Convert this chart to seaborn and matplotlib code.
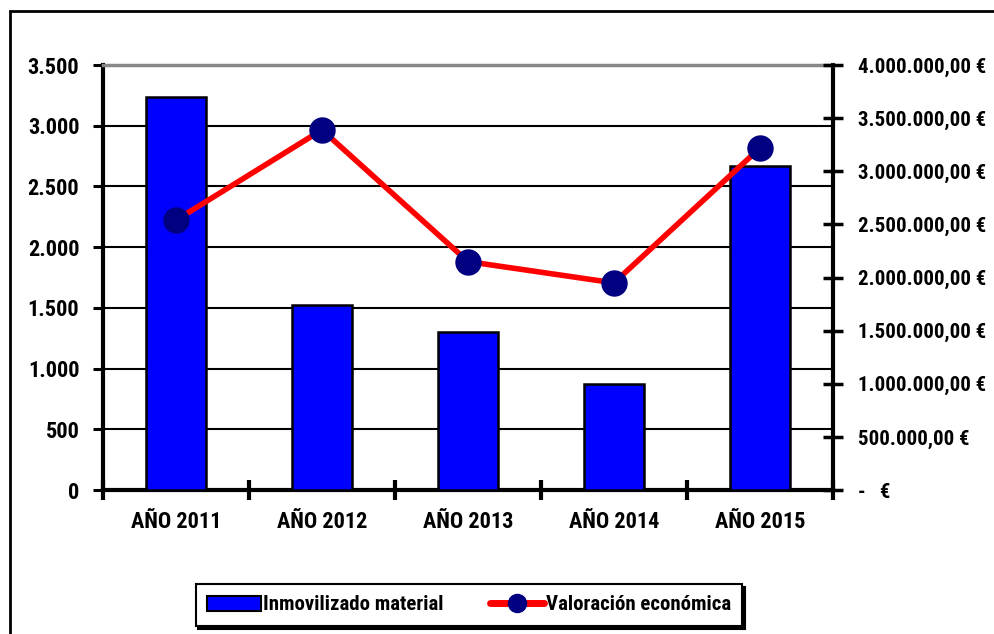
import matplotlib
matplotlib.use("Agg")
import matplotlib.pyplot as plt
from matplotlib import font_manager
import seaborn as sns
import numpy as np
import pandas as pd
from matplotlib.ticker import FuncFormatter, MultipleLocator, FixedLocator
from matplotlib.patches import Rectangle, Patch
from matplotlib.lines import Line2D

years = ["AÑO 2011", "AÑO 2012", "AÑO 2013", "AÑO 2014", "AÑO 2015"]
inmovilizado = [3240, 1520, 1300, 870, 2670]
valoracion = [2540000, 3390000, 2150000, 1950000, 3220000]
bar_label = "Inmovilizado material"
line_label = "Valoración económica"

sns.set_theme(style="white")
available = {f.name for f in font_manager.fontManager.ttflist}
narrow = None
for cand in ["Liberation Sans Narrow", "Arial Narrow", "Roboto Condensed",
             "DejaVu Sans Condensed", "Open Sans Condensed"]:
    if cand in available:
        narrow = cand
        break
if narrow is None:
    narrow = "Liberation Sans"
    FS = 14
    RFS = 13
    LFS = 13
else:
    FS = 16
    RFS = 15
    LFS = 15
plt.rcParams['font.family'] = [narrow, 'DejaVu Sans']
plt.rcParams['font.weight'] = 'bold'
plt.rcParams['text.color'] = 'black'
plt.rcParams['xtick.color'] = 'black'
plt.rcParams['ytick.color'] = 'black'

df = pd.DataFrame({"year": years, "inm": inmovilizado, "val": valoracion})

fig = plt.figure(figsize=(9.95, 6.34), dpi=100)
fig.patch.set_facecolor("white")
ax = fig.add_axes([0.1035, 0.2271, 0.7337, 0.6703])

sns.barplot(data=df, x="year", y="inm", ax=ax, color="#0000FF", saturation=1,
            width=0.41, edgecolor="black", linewidth=1.8, zorder=3)
ax.set_ylim(0, 3500)
ax.set_xlim(-0.5, 4.5)
ax.yaxis.set_major_locator(MultipleLocator(500))
ax.yaxis.set_major_formatter(FuncFormatter(lambda v, p: f"{int(v):,}".replace(",", ".")))
ax.grid(axis="y", color="black", linewidth=1.5, zorder=0)
ax.set_axisbelow(True)
ax.set_xlabel("")
ax.set_ylabel("")
for s in ["left", "bottom", "right"]:
    ax.spines[s].set_color("black")
    ax.spines[s].set_linewidth(3)
ax.spines["top"].set_color("#888888")
ax.spines["top"].set_linewidth(2.5)
ax.tick_params(axis="y", which="major", direction="out", length=7, width=2.2, color="black",
               left=True, labelsize=FS, pad=10, labelcolor="black")
ax.tick_params(axis="x", which="major", length=0, labelsize=FS, pad=15, labelcolor="black")
ax.xaxis.set_minor_locator(FixedLocator([-0.5, 0.5, 1.5, 2.5, 3.5, 4.5]))
ax.tick_params(axis="x", which="minor", direction="inout", length=14, width=3, color="black", bottom=True)
for lab in ax.get_xticklabels() + ax.get_yticklabels():
    lab.set_fontweight("bold")

ax2 = ax.twinx()
sns.pointplot(data=df, x="year", y="val", ax=ax2, color="red", markers="o",
              linestyles="-", linewidth=4, markersize=16,
              markerfacecolor="#000080", markeredgecolor="#000080", zorder=5)
ax2.set_ylim(0, 4000000)
ax2.set_xlim(-0.5, 4.5)
ax2.yaxis.set_major_locator(MultipleLocator(500000))


def eur(v, p):
    if v == 0:
        return "-   €"
    s = f"{v:,.2f}"
    s = s.replace(",", "X").replace(".", ",").replace("X", ".")
    return s + " €"


ax2.yaxis.set_major_formatter(FuncFormatter(eur))
ax2.set_ylabel("")
ax2.grid(False)
for s in ax2.spines.values():
    s.set_visible(False)
ax2.tick_params(axis="y", which="major", direction="inout", length=14, width=2.5, color="black",
                right=True, labelsize=RFS, pad=11, labelcolor="black")
for lab in ax2.get_yticklabels():
    lab.set_fontweight("bold")

handles = [Patch(facecolor="#0000FF", edgecolor="black", linewidth=1.5, label=bar_label),
           Line2D([0], [0], color="red", linewidth=5, marker="o", markersize=13,
                  markerfacecolor="#000080", markeredgecolor="#000080", label=line_label)]
leg = fig.legend(handles=handles, loc="center", bbox_to_anchor=(469 / 995, 1 - 605 / 634),
                 ncol=2, frameon=True, fancybox=False,
                 shadow={"color": "black", "alpha": 1, "ox": 2, "oy": -2},
                 prop={"size": LFS, "weight": "bold"}, handlelength=2.6, handletextpad=0.1,
                 columnspacing=2.2, borderpad=0.55)
leg.get_frame().set_edgecolor("black")
leg.get_frame().set_linewidth(1.5)
for t in leg.get_texts():
    t.set_color("black")

fig.patches.append(Rectangle((10 / 995, -0.1), 1.2, (1 - 11 / 634) + 0.1,
                             transform=fig.transFigure, fill=False,
                             edgecolor="black", linewidth=2, zorder=0))

fig.savefig("out.png", dpi=100, facecolor="white")
